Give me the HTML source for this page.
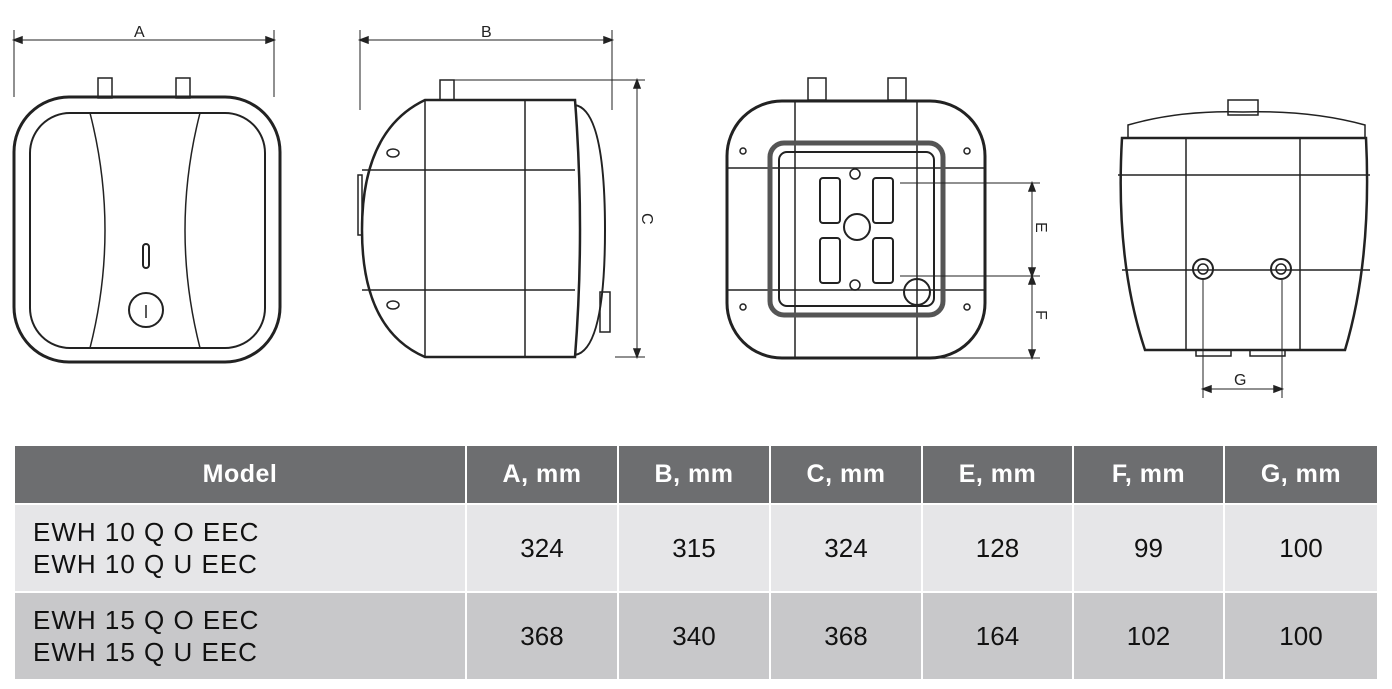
<!DOCTYPE html>
<html><head><meta charset="utf-8"><style>
body{margin:0;background:#fff;width:1392px;height:689px;overflow:hidden;font-family:"Liberation Sans",sans-serif}
svg{position:absolute;left:0;top:0}
table{border-collapse:separate;border-spacing:2px}
th{background:#6d6e70;color:#fff;font-weight:bold;font-size:25px;height:57px;padding:0;letter-spacing:0.5px}
td{font-size:26px;color:#111;text-align:center;padding:0;height:86px}
tr.r1 td{background:#e6e6e8}
tr.r2 td{background:#c8c8ca}
td.m{text-align:left;padding-left:18px;line-height:32px;letter-spacing:1px}
</style></head><body>
<svg width="1392" height="689" fill="none" stroke="#222" stroke-width="1.5">
<!-- view 1 -->
<line x1="14" y1="40" x2="274" y2="40" stroke-width="1"/>
<line x1="14" y1="30" x2="14" y2="97" stroke-width="1"/><line x1="274" y1="30" x2="274" y2="97" stroke-width="1"/>
<path d="M14 40 l8 -3 v6z M274 40 l-8 -3 v6z" fill="#222"/>
<rect x="98" y="78" width="14" height="20"/><rect x="176" y="78" width="14" height="20"/>
<rect x="14" y="97" width="266" height="265" rx="55" stroke-width="3"/>
<rect x="30" y="113" width="235" height="235" rx="40" stroke-width="2"/>
<path d="M90 113 Q120 230 90 348 M200 113 Q170 230 200 348"/>
<rect x="143" y="244" width="6" height="24" rx="3" stroke-width="2"/>
<circle cx="146" cy="310" r="17" stroke-width="2"/><line x1="146" y1="305" x2="146" y2="318"/>
<!-- view 2 -->
<line x1="360" y1="40" x2="612" y2="40" stroke-width="1"/>
<line x1="360" y1="30" x2="360" y2="110" stroke-width="1"/><line x1="612" y1="30" x2="612" y2="110" stroke-width="1"/>
<path d="M360 40 l8 -3 v6z M612 40 l-8 -3 v6z" fill="#222"/>
<line x1="445" y1="80" x2="645" y2="80" stroke-width="1"/><line x1="615" y1="357" x2="645" y2="357" stroke-width="1"/>
<line x1="637" y1="80" x2="637" y2="357" stroke-width="1"/>
<path d="M637 80 l-3 8 h6z M637 357 l-3 -8 h6z" fill="#222"/>
<rect x="440" y="80" width="14" height="20"/>
<path d="M425 100 H575 Q585 230 575 357 H425 Q362 330 362 230 Q362 130 425 100Z" stroke-width="2.5"/>
<line x1="425" y1="100" x2="425" y2="357"/><line x1="525" y1="100" x2="525" y2="357"/>
<line x1="362" y1="170" x2="575" y2="170"/><line x1="362" y1="290" x2="575" y2="290"/>
<path d="M575 105 Q605 110 605 230 Q605 350 575 355" stroke-width="2"/>
<ellipse cx="393" cy="153" rx="6" ry="4"/><ellipse cx="393" cy="305" rx="6" ry="4"/>
<rect x="600" y="292" width="10" height="40"/>
<rect x="358" y="175" width="4" height="60"/>
<!-- view 3 -->
<rect x="808" y="78" width="18" height="22"/><rect x="888" y="78" width="18" height="22"/>
<rect x="727" y="101" width="258" height="257" rx="55" stroke-width="3"/>
<line x1="795" y1="101" x2="795" y2="358"/><line x1="917" y1="101" x2="917" y2="358"/>
<line x1="727" y1="168" x2="985" y2="168"/><line x1="727" y1="290" x2="985" y2="290"/>
<rect x="770" y="143" width="173" height="172" rx="14" stroke-width="5" stroke="#555"/>
<rect x="779" y="152" width="155" height="154" rx="8" stroke-width="2"/>
<circle cx="857" cy="227" r="13" stroke-width="2"/><circle cx="917" cy="292" r="13" stroke-width="2"/>
<rect x="820" y="178" width="20" height="45" rx="3" stroke-width="2"/><rect x="873" y="178" width="20" height="45" rx="3" stroke-width="2"/>
<rect x="820" y="238" width="20" height="45" rx="3" stroke-width="2"/><rect x="873" y="238" width="20" height="45" rx="3" stroke-width="2"/>
<circle cx="855" cy="174" r="5"/><circle cx="855" cy="285" r="5"/>
<circle cx="743" cy="151" r="3"/><circle cx="967" cy="151" r="3"/><circle cx="743" cy="307" r="3"/><circle cx="967" cy="307" r="3"/>
<line x1="900" y1="183" x2="1040" y2="183" stroke-width="1"/><line x1="900" y1="276" x2="1040" y2="276" stroke-width="1"/><line x1="917" y1="358" x2="1040" y2="358" stroke-width="1"/>
<line x1="1032" y1="183" x2="1032" y2="358" stroke-width="1"/>
<path d="M1032 183 l-3 8 h6z M1032 276 l-3 -8 h6z M1032 276 l-3 8 h6z M1032 358 l-3 -8 h6z" fill="#222"/>
<!-- view 4 -->
<rect x="1228" y="100" width="30" height="15"/>
<path d="M1128 125 Q1180 110 1243 112 Q1310 110 1365 125 V138 H1128Z"/>
<path d="M1122 138 H1366 Q1372 260 1345 350 H1145 Q1115 260 1122 138Z" stroke-width="2.5"/>
<line x1="1122" y1="270" x2="1370" y2="270"/><line x1="1118" y1="175" x2="1370" y2="175"/>
<line x1="1186" y1="138" x2="1186" y2="350"/><line x1="1300" y1="138" x2="1300" y2="350"/>
<circle cx="1203" cy="269" r="10" stroke-width="2"/><circle cx="1203" cy="269" r="5"/>
<circle cx="1281" cy="269" r="10" stroke-width="2"/><circle cx="1281" cy="269" r="5"/>
<rect x="1196" y="350" width="35" height="6"/><rect x="1250" y="350" width="35" height="6"/>
<line x1="1203" y1="280" x2="1203" y2="398" stroke-width="1"/><line x1="1282" y1="280" x2="1282" y2="398" stroke-width="1"/>
<line x1="1203" y1="389" x2="1282" y2="389" stroke-width="1"/>
<path d="M1203 389 l8 -3 v6z M1282 389 l-8 -3 v6z" fill="#222"/>
<g fill="#222" stroke="none" font-family="Liberation Sans" font-size="16">
<text x="134" y="37">A</text><text x="481" y="37">B</text>
<text x="1234" y="385">G</text>
<text transform="translate(642,213) rotate(90)">C</text>
<text transform="translate(1036,222) rotate(90)">E</text>
<text transform="translate(1036,310) rotate(90)">F</text>
</g>
</svg>
<div style="position:absolute;left:13px;top:444px">
<table>
<tr><th style="width:450px">Model</th><th style="width:150px">A, mm</th><th style="width:150px">B, mm</th><th style="width:150px">C, mm</th><th style="width:149px">E, mm</th><th style="width:149px">F, mm</th><th style="width:152px">G, mm</th></tr>
<tr class="r1"><td class="m">EWH 10 Q O EEC<br>EWH 10 Q U EEC</td><td>324</td><td>315</td><td>324</td><td>128</td><td>99</td><td>100</td></tr>
<tr class="r2"><td class="m">EWH 15 Q O EEC<br>EWH 15 Q U EEC</td><td>368</td><td>340</td><td>368</td><td>164</td><td>102</td><td>100</td></tr>
</table></div>
</body></html>
